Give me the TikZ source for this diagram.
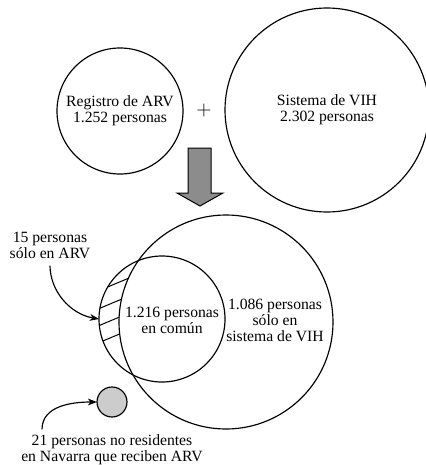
\documentclass[tikz,border=0pt]{standalone}
\usepackage{tikz}
\usepackage{fontspec}
\setmainfont{Liberation Serif}
\usetikzlibrary{arrows.meta}

\tikzset{
  ring/.style={circle, draw, inner sep=0pt, outer sep=0pt},
  txt/.style={align=center, font=\fontsize{9.4}{9.6}\selectfont, inner sep=1pt},
}

\begin{document}
\begin{tikzpicture}[x=0.6pt, y=-0.6pt, >={Stealth[length=5.4pt, width=4pt, inset=1.4pt]}, line width=0.7pt]

\useasboundingbox (0,0) rectangle (425,465);

% los dos registros por separado
\node[ring, minimum size=75.6pt, txt] (arv) at (120,111) {Registro de ARV\\1.252 personas};
\node[ring, minimum size=122.4pt, txt] (vih) at (327,110) {Sistema de VIH\\2.302 personas};
\node[font=\fontsize{13}{13}\selectfont] (mas) at (204,110) {$+$};

% flecha gris hacia abajo
\draw[fill=black!45, line width=0.6pt] (188,148) -- (211,148) -- (211,193) -- (223,193)
	-- (200,206) -- (177,193) -- (188,193) -- cycle;

% cruce de los registros
\node[ring, minimum size=128.4pt] (vih2) at (226,322) {};
\node[ring, minimum size=75.6pt] (arv2) at (162,319) {};

% rayado: solo en ARV
\begin{scope}[even odd rule]
	\clip (arv2.center) circle[radius=63];
	\clip (0,0) rectangle (425,465) (vih2.center) circle[radius=107];
	\foreach \y in {286,304,321,338}
		\draw[line width=0.6pt] (80,{\y+12.6}) -- (150,{\y-16.8});
\end{scope}

\node[txt] (comun) at (172,320) {1.216 personas\\en común};
\node[txt] (solovih) at (275,320) {1.086 personas\\sólo en\\sistema de VIH};

\node[txt] (soloarv) at (50,245) {15 personas\\sólo en ARV};
\draw[->, shorten <=3pt] (soloarv.south) to[out=-90, in=170] (arv2.west);

% no residentes
\node[ring, minimum size=18pt, fill=black!20] (fuera) at (112,402) {};
\node[txt] (nores) at (112,450) {21 personas no residentes\\en Navarra que reciben ARV};
\draw[->] ([xshift=-42pt, yshift=2pt]nores.north) to[out=90, in=180] (fuera.west);

\end{tikzpicture}
\end{document}
